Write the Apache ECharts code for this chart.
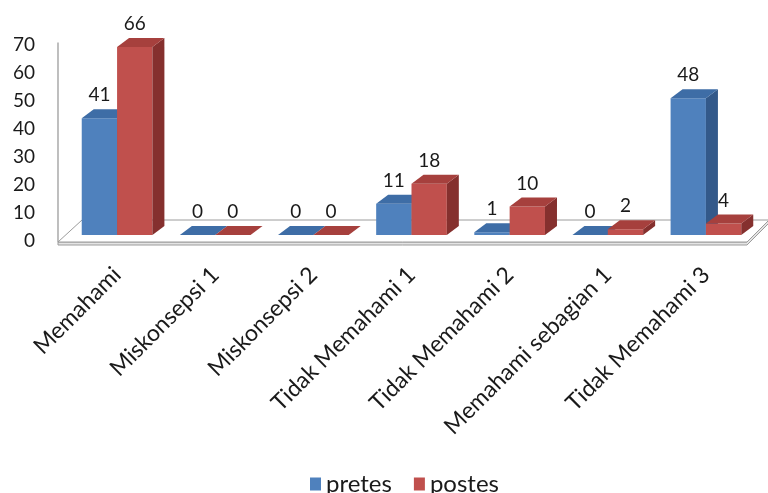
<!DOCTYPE html>
<html><head><meta charset="utf-8">
<script src="https://cdn.jsdelivr.net/npm/echarts@6/dist/echarts.min.js"></script>
<style>html,body{margin:0;padding:0;background:#fff}#c{width:768px;height:493px}</style>
</head><body><div id="c"></div>
<script>
const categories = ['Memahami','Miskonsepsi 1','Miskonsepsi 2','Tidak Memahami 1','Tidak Memahami 2','Memahami sebagian 1','Tidak Memahami 3'];
const pretes = [41, 0, 0, 11, 1, 0, 48];
const postes = [66, 0, 0, 18, 10, 2, 4];
const seriesNames = ['pretes', 'postes'];
const yMin = 0, yMax = 70, yStep = 10;

const palette = [
  {front: '#4F81BD', top: '#3E6DA6', side: '#33598A'},
  {front: '#C0504D', top: '#A6403D', side: '#85302E'}
];
const DX = 12, DY = 9;
const FONT = 'Lato';

function barRender(si) {
  return function (params, api) {
    const ci = api.value(0), v = api.value(1);
    const base = api.coord([ci, 0]);
    const top = api.coord([ci, v]);
    const band = api.size([1, 0])[0];
    const w = band * 0.36;
    const x0 = base[0] + (si === 0 ? -w : 0);
    const x1 = x0 + w;
    const yb = base[1], yt = top[1];
    const c = palette[si];
    const children = [];
    if (yb - yt > 0.5) {
      children.push({type: 'rect', shape: {x: x0, y: yt, width: w, height: yb - yt}, style: {fill: c.front}});
      children.push({type: 'polygon', shape: {points: [[x1, yb], [x1 + DX, yb - DY], [x1 + DX, yt - DY], [x1, yt]]}, style: {fill: c.side}});
    }
    children.push({type: 'polygon', shape: {points: [[x0, yt], [x1, yt], [x1 + DX, yt - DY], [x0 + DX, yt - DY]]}, style: {fill: c.top}});
    children.push({type: 'text', style: {text: String(v), x: x0 + w / 2, y: yt - 23, align: 'center', verticalAlign: 'middle', fontSize: 19, fontFamily: FONT, fill: '#1a1a1a'}});
    return {type: 'group', children: children};
  };
}

function floorRender(params, api) {
  const cs = params.coordSys;
  const fy = cs.y + cs.height + 7;
  const by = fy - 22;
  const lx = cs.x - 10;
  const rx = cs.x + cs.width - 8;
  const stroke = '#9c9c9c';
  return {type: 'group', children: [
    {type: 'polygon', shape: {points: [[lx, fy + 3], [rx, fy + 3], [rx + 22, by + 3], [rx + 22, by], [rx, fy], [lx, fy]]}, style: {fill: '#e4e4e4', stroke: stroke, lineWidth: 1}},
    {type: 'polygon', shape: {points: [[lx, fy], [rx, fy], [rx + 22, by], [lx + 24, by]]}, style: {fill: '#ffffff', stroke: stroke, lineWidth: 1}},
    {type: 'line', shape: {x1: lx, y1: cs.y + 7, x2: lx, y2: fy}, style: {stroke: stroke, lineWidth: 1.3}}
  ]};
}

const chart = echarts.init(document.getElementById('c'), null, {renderer: 'canvas'});
chart.setOption({
  animation: false,
  backgroundColor: '#ffffff',
  textStyle: {fontFamily: FONT},
  grid: [
    {left: 68, right: 13, top: 35.5, bottom: 258},
    {left: 43, right: 700, top: 45, bottom: 252}
  ],
  xAxis: [
    {type: 'category', gridIndex: 0, data: categories,
     axisLine: {show: false}, axisTick: {show: false},
     axisLabel: {interval: 0, rotate: 45, margin: 36, fontSize: 23, color: '#1a1a1a', fontFamily: FONT}},
    {type: 'category', gridIndex: 1, data: [''], show: false}
  ],
  yAxis: [
    {type: 'value', gridIndex: 0, min: yMin, max: yMax, interval: yStep, show: false, splitLine: {show: false}},
    {type: 'value', gridIndex: 1, min: yMin, max: yMax, interval: yStep,
     axisLine: {show: false}, axisTick: {show: false}, splitLine: {show: false},
     axisLabel: {fontSize: 19, color: '#1a1a1a', margin: 8, fontFamily: FONT}}
  ],
  legend: {
    data: seriesNames, left: 305, top: 467, icon: 'rect', itemWidth: 11, itemHeight: 13, itemGap: 22,
    textStyle: {fontSize: 24, color: '#1a1a1a', fontFamily: FONT}
  },
  series: [
    {type: 'custom', name: 'floor', xAxisIndex: 0, yAxisIndex: 0, z: 1, renderItem: floorRender, data: [[0, 0]], silent: true},
    {type: 'custom', name: seriesNames[0], xAxisIndex: 0, yAxisIndex: 0, z: 2, renderItem: barRender(0),
     itemStyle: {color: palette[0].front}, encode: {x: 0, y: 1},
     data: categories.map((c, i) => [i, pretes[i]])},
    {type: 'custom', name: seriesNames[1], xAxisIndex: 0, yAxisIndex: 0, z: 3, renderItem: barRender(1),
     itemStyle: {color: palette[1].front}, encode: {x: 0, y: 1},
     data: categories.map((c, i) => [i, postes[i]])}
  ]
});
</script></body></html>
